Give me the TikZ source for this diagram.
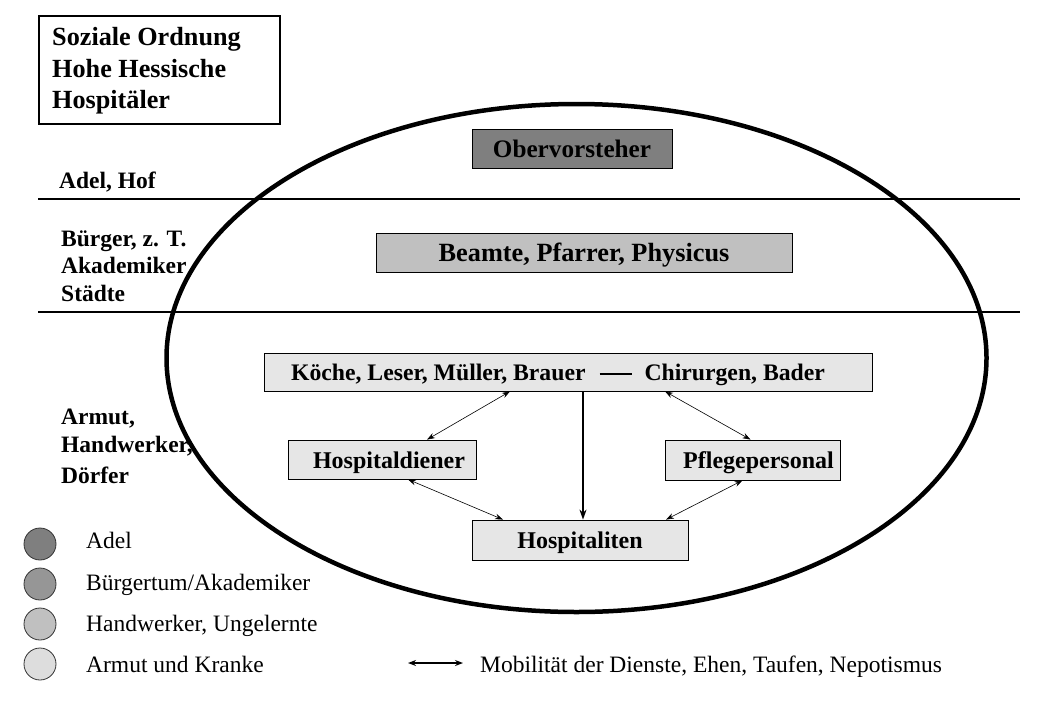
\documentclass[tikz,border=0pt]{standalone}
\usepackage{fontspec}
\setmainfont{Liberation Serif}
\usetikzlibrary{arrows.meta}
\definecolor{gA}{HTML}{7F7F7F}
\definecolor{gB}{HTML}{969696}
\definecolor{gC}{HTML}{C0C0C0}
\definecolor{gD}{HTML}{DDDDDD}
\definecolor{gK}{HTML}{E6E6E6}
\tikzset{
  rolebox/.style={draw=black, line width=0.8pt, inner sep=0pt, text height=17.5pt, text depth=0pt, font=\bfseries\fontsize{24}{28}\selectfont},
  sidelabel/.style={anchor=base west, inner sep=0pt, font=\bfseries\fontsize{23.5}{28}\selectfont},
  legtext/.style={anchor=base west, inner sep=0pt, font=\fontsize{23.5}{26}\selectfont},
  legdot/.style={circle, draw=black!80, line width=0.8pt, minimum size=32pt, inner sep=0pt},
  mob/.style={{Stealth[length=8pt,width=5.5pt]}-{Stealth[length=8pt,width=5.5pt]}, line width=0.6pt},
}
\begin{document}
\begin{tikzpicture}[x=1pt,y=-1pt]
\useasboundingbox (0,0) rectangle (1040,720);
% title box
\draw[line width=2.4pt] (39,16) rectangle (280,124);
\node[sidelabel, font=\bfseries\fontsize{26.2}{30}\selectfont] (t1) at (52,45) {Soziale Ordnung};
\node[sidelabel, font=\bfseries\fontsize{26.2}{30}\selectfont] (t2) at (52,77) {Hohe Hessische};
\node[sidelabel, font=\bfseries\fontsize{26.2}{30}\selectfont] (t3) at (52,108) {Hospitäler};
% ellipse
\draw[line width=4.5pt] (576.5,358) ellipse [x radius=410, y radius=254];
% separating lines
\draw[line width=2.4pt] (38,199) -- (1020,199);
\draw[line width=2.4pt] (38,312) -- (1020,312);
% side labels
\node[sidelabel] (s1) at (59,188) {Adel, Hof};
\node[sidelabel] (s2) at (61,246) {Bürger, z. T.};
\node[sidelabel] (s3) at (61,273) {Akademiker};
\node[sidelabel] (s4) at (61,301) {Städte};
\node[sidelabel] (s5) at (61,424) {Armut,};
\node[sidelabel] (s6) at (61,452) {Handwerker,};
\node[sidelabel] (s7) at (61,483) {Dörfer};
% role boxes
\node[rolebox, fill=gA, minimum width=200pt, minimum height=39pt, font=\bfseries\fontsize{25.2}{28}\selectfont] (ob) at (572,148.5) {Obervorsteher};
\node[rolebox, fill=gC, minimum width=416pt, minimum height=39pt, font=\bfseries\fontsize{26.3}{28}\selectfont] (be) at (584,252.5) {Beamte, Pfarrer, Physicus};
\node[rolebox, fill=gK, minimum width=608pt, minimum height=38pt, font=\bfseries\fontsize{23.7}{28}\selectfont] (k) at (568,372) {Köche, Leser, Müller, Brauer\hspace{14pt}\rule[6pt]{32pt}{1.8pt}\hspace{13pt}Chirurgen, Bader\kern20pt\mbox{}};
\node[rolebox, fill=gK, minimum width=188pt, minimum height=39pt] (hd) at (382,459.5) {\hspace{14pt}Hospitaldiener};
\node[rolebox, fill=gK, minimum width=175pt, minimum height=40pt] (pf) at (752.5,460) {\hspace{12pt}Pflegepersonal};
\node[rolebox, fill=gK, minimum width=216pt, minimum height=40pt] (ho) at (580,540) {Hospitaliten};
% connectors
\draw[mob] ([xshift=-58pt]k.south) -- ([xshift=45pt]hd.north);
\draw[mob] ([xshift=97pt]k.south) -- ([xshift=-2pt]pf.north);
\draw[mob] ([xshift=26pt]hd.south) -- ([xshift=-77pt]ho.north);
\draw[mob] ([xshift=-10pt]pf.south) -- ([xshift=86pt]ho.north);
\draw[-{Stealth[length=10pt,width=7pt]}, line width=1.6pt] ([xshift=15pt]k.south) -- ([xshift=3pt]ho.north);
% legend
\node[legdot, fill=gA] (d1) at (40,544) {};
\node[legdot, fill=gB] (d2) at (40,584) {};
\node[legdot, fill=gC] (d3) at (40,624) {};
\node[legdot, fill=gD] (d4) at (40,664) {};
\node[legtext] (l1) at (86,548) {Adel};
\node[legtext] (l2) at (86,590) {Bürgertum/Akademiker};
\node[legtext] (l3) at (86,631) {Handwerker, Ungelernte};
\node[legtext] (l4) at (86,672) {Armut und Kranke};
\coordinate (ma) at (408,663);
\coordinate (mb) at (463,663);
\draw[{Stealth[length=8pt,width=6pt]}-{Stealth[length=8pt,width=6pt]}, line width=1.6pt] (ma) -- (mb);
\node[legtext] (l5) at (480,672) {Mobilität der Dienste, Ehen, Taufen, Nepotismus};
\end{tikzpicture}
\end{document}
